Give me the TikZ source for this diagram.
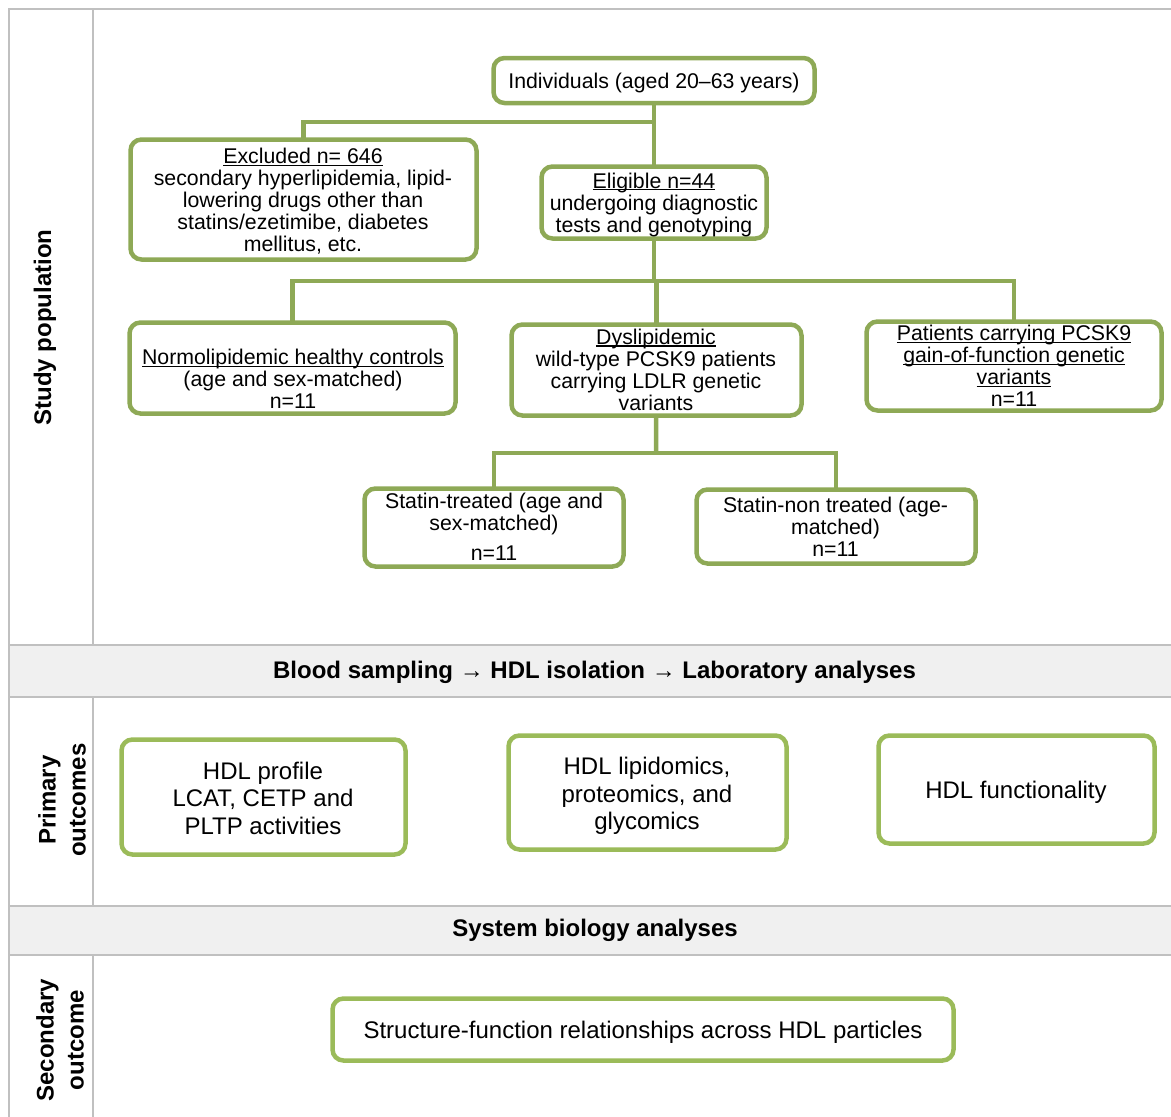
\documentclass[tikz,border=0pt]{standalone}
\usepackage{fontspec}
\setmainfont{Liberation Sans}
\definecolor{grn}{HTML}{8EA956}
\definecolor{grnb}{HTML}{9BBB59}
\definecolor{gridc}{HTML}{C0C0C0}
\definecolor{bandc}{HTML}{F0F0F0}
\newcommand{\myul}[1]{\setbox0\hbox{#1}\rlap{\rule[-2.4pt]{\wd0}{1.1pt}}\box0}
\tikzset{
  box/.style={draw=grn, line width=4.5pt, rounded corners=11pt, fill=white, inner sep=0pt},
  boxb/.style={box, draw=grnb},
  conn/.style={draw=grn, line width=4.5pt},
  txt/.style={align=center, font=\fontsize{21.3}{22}\selectfont, inner sep=0pt},
  txtb/.style={align=center, font=\fontsize{24}{27.5}\selectfont, inner sep=0pt},
  bandtxt/.style={font=\fontsize{24}{27}\selectfont\bfseries, inner sep=0pt},
  side/.style={rotate=90, align=center, font=\fontsize{24}{30}\selectfont\bfseries, inner sep=0pt},
  gridline/.style={draw=gridc, line width=2pt},
}
\begin{document}
\begin{tikzpicture}[x=1pt,y=-1pt]
\useasboundingbox (0,0) rectangle (1171,1117);
% grid
\fill[bandc] (9,645) rectangle (1171,697);
\fill[bandc] (9,906) rectangle (1171,955);
\draw[gridline] (9,1117) -- (9,9) -- (1171,9);
\draw[gridline] (93,9) -- (93,645);
\draw[gridline] (93,697) -- (93,906);
\draw[gridline] (93,955) -- (93,1117);
\draw[gridline] (9,645) -- (1171,645);
\draw[gridline] (9,697) -- (1171,697);
\draw[gridline] (9,906) -- (1171,906);
\draw[gridline] (9,955) -- (1171,955);
% side labels and bands
\node[side] (s1) at (45,327.5) {Study population};
\node[side] (s2) at (62,800) {Primary\\outcomes};
\node[side] (s3) at (60,1040) {Secondary\\outcome};
\node[bandtxt] (b1) at (594.5,672) {Blood sampling → HDL isolation → Laboratory analyses};
\node[bandtxt] (b2) at (595,930) {System biology analyses};
% coordinates for connectors
\coordinate (j1) at (654,122);
\coordinate (j2) at (654,281);
\coordinate (j3) at (656,453);
\path (654,80.5) coordinate (indc) (303.5,199.5) coordinate (exclc) (654,202.5) coordinate (eligc)
      (292.5,368) coordinate (normoc) (656.5,370) coordinate (dysc) (1014,366) coordinate (patc)
      (494,527.5) coordinate (stTc) (836,526.5) coordinate (stNc);
% connectors (drawn first, boxes on top)
\draw[conn] (indc) -- (eligc);
\draw[conn] (j1) -| (exclc);
\draw[conn] (eligc) -- (j2);
\draw[conn] (normoc) |- (j2) -| (patc);
\draw[conn] (dysc |- j2) -- (dysc);
\draw[conn] (dysc) -- (j3);
\draw[conn] (stTc) |- (j3) -| (stNc);
% boxes
\node[box, minimum width=321pt, minimum height=45pt] (ind) at (indc) {};
\node[box, minimum width=346pt, minimum height=120pt] (excl) at (exclc) {};
\node[box, minimum width=225pt, minimum height=72pt] (elig) at (eligc) {};
\node[box, minimum width=326pt, minimum height=91pt] (normo) at (normoc) {};
\node[box, minimum width=290pt, minimum height=91pt] (dys) at (dysc) {};
\node[box, minimum width=295pt, minimum height=89pt] (pat) at (patc) {};
\node[box, minimum width=259pt, minimum height=78pt] (stT) at (stTc) {};
\node[box, minimum width=279pt, minimum height=74pt] (stN) at (stNc) {};
\node[boxb, minimum width=284pt, minimum height=115pt] (prof) at (263.5,797) {};
\node[boxb, minimum width=278pt, minimum height=114pt] (lipi) at (647.5,792.5) {};
\node[boxb, minimum width=276pt, minimum height=108pt] (func) at (1016.5,789.5) {};
\node[boxb, minimum width=621pt, minimum height=62pt] (struc) at (643,1029.5) {};
% texts
\node[txt] (tind) at (654,83) {Individuals (aged 20–63 years)};
\node[txt] (texcl) at (303,201) {\myul{Excluded n= 646}\\secondary hyperlipidemia, lipid-\\lowering drugs other than\\statins/ezetimibe, diabetes\\mellitus, etc.};
\node[txt] (telig) at (654,204.5) {\myul{Eligible n=44}\\undergoing diagnostic\\tests and genotyping};
\node[txt] (tnormo) at (293,379) {\myul{Normolipidemic healthy controls}\\(age and sex-matched)\\n=11};
\node[txt] (tdys) at (656,369.5) {\myul{Dyslipidemic}\\wild-type PCSK9 patients\\carrying LDLR genetic\\variants};
\node[txt] (tpat) at (1014,366) {\myul{Patients carrying PCSK9}\\\myul{gain-of-function genetic}\\\myul{variants}\\n=11};
\node[txt] (tstT) at (494,527) {Statin-treated (age and\\sex-matched)\\[8pt]n=11};
\node[txt] (tstN) at (835.5,527) {Statin-non treated (age-\\matched)\\n=11};
\node[txtb] (tprof) at (263,798) {HDL profile\\LCAT, CETP and\\PLTP activities};
\node[txtb] (tlipi) at (647,796) {HDL lipidomics,\\proteomics, and\\glycomics};
\node[txtb] (tfunc) at (1016,792) {HDL functionality};
\node[txtb] (tstruc) at (643,1032) {Structure-function relationships across HDL particles};
\end{tikzpicture}
\end{document}
